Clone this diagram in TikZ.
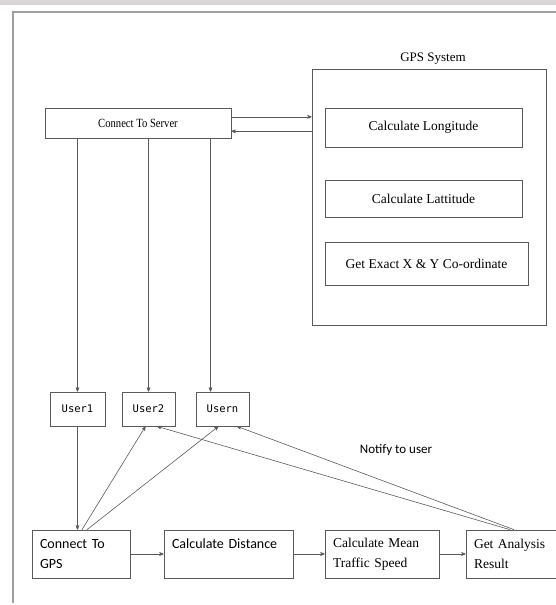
\documentclass[tikz,border=0pt]{standalone}
\usepackage{fontspec}
\setmainfont{Liberation Serif}
\newfontfamily\condfont{Liberation Serif}[FakeStretch=0.85]
\newfontfamily\calfont{Carlito}
\newfontfamily\userfont{DejaVu Sans Mono}
\usepackage{tikz}
\usetikzlibrary{arrows,positioning,calc}

\definecolor{linegray}{HTML}{5A5A5A}
\definecolor{framegray}{HTML}{A0A0A0}
\definecolor{bandgray}{HTML}{D9D5D5}

\begin{document}
\begin{tikzpicture}[
    x=1pt, y=-1pt,
    box/.style={rectangle, draw=linegray, line width=0.7pt, inner sep=0pt, align=center, font=\fontsize{13.5}{16}\selectfont},
    userbox/.style={rectangle, draw=linegray, line width=0.7pt, inner sep=0pt, minimum height=34pt, font=\userfont\fontsize{10.5}{13}\selectfont},
    stepbox/.style={rectangle, draw=linegray, line width=0.7pt, inner xsep=8pt, inner ysep=0pt, minimum height=48pt, align=left},
    arrow/.style={->, >=stealth', line width=0.6pt, draw=linegray}
]
\useasboundingbox (0,0) rectangle (556,605);
\fill[bandgray] (0,0) rectangle (556,5);
\draw[framegray, line width=2pt] (556,12) -- (13,12) -- (13,603);

% server and gps system
\node[box, minimum width=186pt, minimum height=30pt, font=\condfont\fontsize{12.5}{15}\selectfont] (server) at (138,123) {Connect To Server};
\node[box, minimum width=234pt, minimum height=256pt] (gps) at (429,197) {};
\node[font=\fontsize{13}{16}\selectfont] (gpslabel) at (433,59) {GPS System};
\node[box, minimum width=197pt, minimum height=39pt] (longitude) at (423.5,127.5) {Calculate Longitude};
\node[box, minimum width=197pt, minimum height=37pt] (latitude) at (423.5,198.5) {Calculate Lattitude};
\node[box, minimum width=203pt, minimum height=43pt] (coord) at (426.5,263.5) {Get Exact X \& Y Co-ordinate};

% users
\node[userbox, minimum width=55pt] (user1) at (77.5,409) {User1};
\node[userbox, minimum width=53pt] (user2) at (148.5,409) {User2};
\node[userbox, minimum width=53pt] (usern) at (222.5,409) {Usern};

% processing chain
\node[stepbox, text width=82pt, font=\calfont\fontsize{14}{20}\selectfont] (conngps) at (81,554) {Connect To\\GPS};
\node[stepbox, text width=113pt, font=\calfont\fontsize{14}{20}\selectfont] (distance) at (228.5,554) {Calculate Distance\\~};
\node[stepbox, text width=98pt, font=\fontsize{13.5}{20}\selectfont] (meanspeed) at (382,554) {Calculate Mean\\Traffic Speed};
\node[stepbox, text width=80pt, font=\fontsize{13.5}{20}\selectfont] (analysis) at (514,554) {Get Analysis\\Result};

\node[font=\calfont\fontsize{13}{15}\selectfont] (notify) at (396,450) {Notify to user};

\coordinate (s1) at ($(server.north east)!0.3!(server.south east)$);
\coordinate (s2) at ($(server.north east)!0.77!(server.south east)$);
\draw[arrow] (s1) -- (s1 -| gps.west);
\draw[arrow] (s2 -| gps.west) -- (s2);
\draw[arrow] (user1.north |- server.south) -- (user1.north);
\draw[arrow] (user2.north |- server.south) -- (user2.north);
\draw[arrow] ([xshift=-12pt]usern.north |- server.south) -- ([xshift=-12pt]usern.north);
\draw[arrow] (user1.south) -- (user1.south |- conngps.north);
\draw[arrow] ([xshift=1pt]conngps.north) -- ([xshift=-3pt]user2.south);
\draw[arrow] ([xshift=6pt]conngps.north) -- ([xshift=-4pt]usern.south);
\draw[arrow] ([xshift=-4pt]analysis.north) -- ([xshift=8.5pt]user2.south);
\draw[arrow] ([xshift=0pt]analysis.north) -- ([xshift=14.5pt]usern.south);
\draw[arrow] (conngps) -- (distance);
\draw[arrow] (distance) -- (meanspeed);
\draw[arrow] (meanspeed) -- (analysis);
\end{tikzpicture}
\end{document}
